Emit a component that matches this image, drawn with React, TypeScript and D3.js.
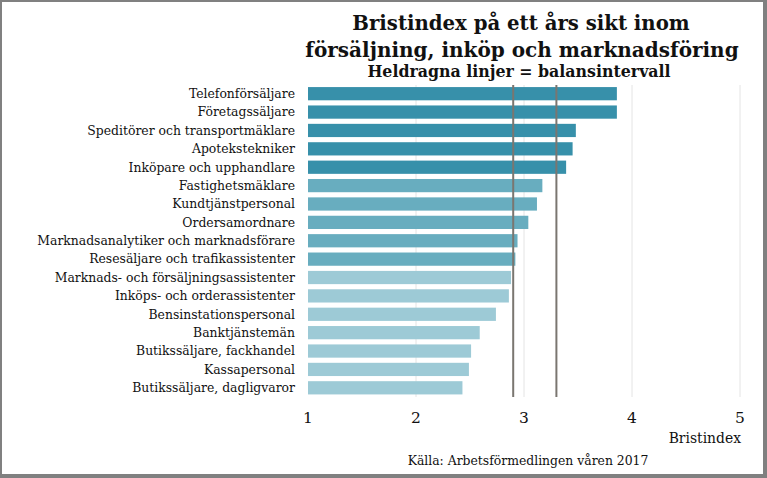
import React from "react";
import * as d3 from "d3";

const categories = [
  "Telefonförsäljare",
  "Företagssäljare",
  "Speditörer och transportmäklare",
  "Apotekstekniker",
  "Inköpare och upphandlare",
  "Fastighetsmäklare",
  "Kundtjänstpersonal",
  "Ordersamordnare",
  "Marknadsanalytiker och marknadsförare",
  "Resesäljare och trafikassistenter",
  "Marknads- och försäljningsassistenter",
  "Inköps- och orderassistenter",
  "Bensinstationspersonal",
  "Banktjänstemän",
  "Butikssäljare, fackhandel",
  "Kassapersonal",
  "Butikssäljare, dagligvaror",
];
const values = [3.86, 3.86, 3.48, 3.45, 3.39, 3.17, 3.12, 3.04, 2.94, 2.92, 2.88, 2.86, 2.74, 2.59, 2.51, 2.49, 2.43];
const groups = [0, 0, 0, 0, 0, 1, 1, 1, 1, 1, 2, 2, 2, 2, 2, 2, 2];
const groupColors = ["#3790aa", "#68adbf", "#9dcad6"];
const balanceInterval = [2.9, 3.3];
const ticks = [1, 2, 3, 4, 5];
const titleLines = ["Bristindex på ett års sikt inom", "försäljning, inköp och marknadsföring"];
const subtitle = "Heldragna linjer = balansintervall";
const axisTitle = "Bristindex";
const source = "Källa: Arbetsförmedlingen våren 2017";

const W = 767;
const H = 478;
const FONT = "'DejaVu Serif', Georgia, serif";

export default function App() {
  const x = d3.scaleLinear().domain([1, 5]).range([308, 740]);
  const y = d3.scaleBand().domain(categories).range([84.5, 397]).paddingInner(0.28).paddingOuter(0.14);
  const top = 85;
  const bottom = 397;
  return (
    <svg width={W} height={H} style={{ position: "absolute", left: 0, top: 0 }} xmlns="http://www.w3.org/2000/svg">
      <rect x={0} y={0} width={W} height={H} fill="#808080" />
      <rect x={2} y={2} width={761} height={472} fill="#ffffff" />
      <g fontFamily={FONT} fontWeight="bold" textAnchor="middle" fill="#111">
        <text x={521} y={30} fontSize={19.7}>{titleLines[0]}</text>
        <text x={522} y={57} fontSize={20}>{titleLines[1]}</text>
        <text x={519} y={77} fontSize={15.8}>{subtitle}</text>
      </g>
      {ticks.slice(1).map((t) => (
        <line key={"g" + t} x1={x(t)} x2={x(t)} y1={top} y2={bottom} stroke="#e4e4e4" strokeWidth={1} />
      ))}
      {categories.map((c, i) => (
        <rect key={c} x={x(1)} y={y(c)} width={x(values[i]) - x(1)} height={y.bandwidth()} fill={groupColors[groups[i]]} />
      ))}
      {balanceInterval.map((v) => (
        <line key={"b" + v} x1={x(v)} x2={x(v)} y1={top} y2={bottom} stroke="#7a7670" strokeWidth={2} />
      ))}
      <g fontFamily={FONT} fontSize={12.4} textAnchor="end" fill="#111">
        {categories.map((c) => (
          <text key={"l" + c} x={295} y={(y(c) as number) + y.bandwidth() / 2} dy="0.35em">{c}</text>
        ))}
      </g>
      <g fontFamily={FONT} fontSize={15.5} textAnchor="middle" fill="#111">
        {ticks.map((t) => (
          <text key={"t" + t} x={x(t)} y={423}>{t}</text>
        ))}
      </g>
      <text x={741} y={443} fontFamily={FONT} fontSize={13.9} textAnchor="end" fill="#111">{axisTitle}</text>
      <text x={528} y={465} fontFamily={FONT} fontSize={12.4} textAnchor="middle" fill="#111">{source}</text>
    </svg>
  );
}
